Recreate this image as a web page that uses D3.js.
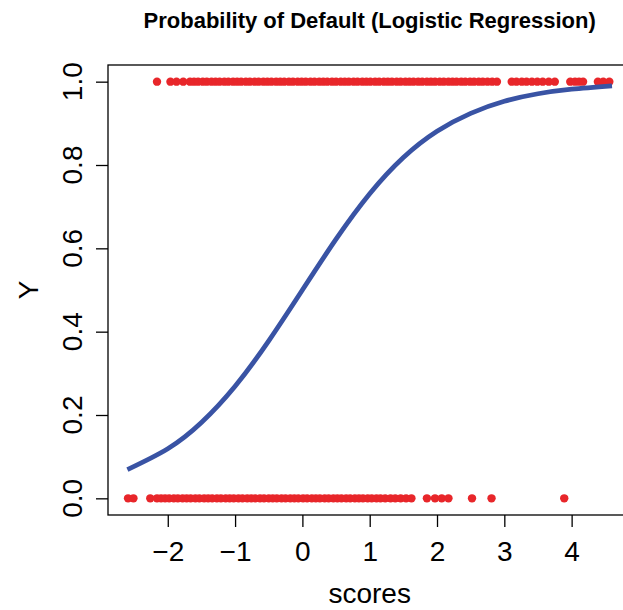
<!DOCTYPE html>
<html>
<head>
<meta charset="utf-8">
<script src="https://cdn.jsdelivr.net/npm/d3@7"></script>
<style>
  html, body { margin: 0; padding: 0; background: #fff; }
  svg { display: block; }
  text { font-family: "Liberation Sans", Arial, Helvetica, sans-serif; fill: #000; }
</style>
</head>
<body>
<svg id="chart" width="623" height="610"></svg>
<script>
// Observed scores of borrowers who defaulted (Y = 1)
const defaultScores = [
  -2.16, -1.96, -1.87, -1.77, -1.67, -1.61, -1.55, -1.48, -1.42, -1.35, -1.29, -1.23,
  -1.16, -1.10, -1.03, -0.97, -0.91, -0.84, -0.78, -0.71, -0.65, -0.58, -0.52, -0.46,
  -0.39, -0.33, -0.27, -0.20, -0.14, -0.07, -0.01, 0.05, 0.12, 0.18, 0.25, 0.31,
  0.37, 0.44, 0.50, 0.57, 0.63, 0.69, 0.76, 0.82, 0.89, 0.95, 1.01, 1.08, 1.14,
  1.21, 1.27, 1.33, 1.40, 1.46, 1.53, 1.59, 1.65, 1.72, 1.78, 1.85, 1.91, 1.97,
  2.04, 2.10, 2.17, 2.23, 2.29, 2.36, 2.42, 2.49, 2.55, 2.62, 2.68, 2.75, 2.82, 2.89,
  3.11, 3.18, 3.26, 3.33, 3.41, 3.49, 3.57, 3.66, 3.75,
  3.98, 4.05, 4.11, 4.17,
  4.39, 4.47, 4.56
];

// Observed scores of borrowers who did not default (Y = 0)
const nonDefaultScores = [
  -2.59, -2.51, -2.26, -2.16, -2.10, -2.04, -1.98, -1.91, -1.85, -1.78, -1.72, -1.66,
  -1.59, -1.53, -1.46, -1.40, -1.34, -1.27, -1.21, -1.14, -1.08, -1.02, -0.95, -0.89,
  -0.82, -0.76, -0.70, -0.63, -0.57, -0.50, -0.44, -0.38, -0.31, -0.25, -0.18, -0.12,
  -0.06, 0.01, 0.07, 0.14, 0.20, 0.26, 0.33, 0.39, 0.46, 0.52, 0.58, 0.65, 0.71,
  0.78, 0.84, 0.90, 0.97, 1.03, 1.10, 1.16, 1.23, 1.31, 1.38, 1.46, 1.54, 1.62,
  1.85, 1.97, 2.07, 2.17, 2.52, 2.81, 3.89
];

// Fitted probability of default along the score range
const fitScores = [-2.6, -2.0, -1.5, -1.0, -0.5, 0.0, 0.5, 1.0, 1.5, 2.0, 2.5, 3.0, 3.5, 4.0, 4.6];
const fitProb   = [0.069, 0.119, 0.182, 0.269, 0.378, 0.500, 0.622, 0.731, 0.818, 0.881, 0.924, 0.953, 0.971, 0.982, 0.990];

// Axis ticks
const xTicks = [-2, -1, 0, 1, 2, 3, 4];
const xTickLabels = ["\u22122", "\u22121", "0", "1", "2", "3", "4"];
const yTicks = [0, 0.2, 0.4, 0.6, 0.8, 1.0];
const yTickLabels = ["0.0", "0.2", "0.4", "0.6", "0.8", "1.0"];

const svg = d3.select("#chart");

const plot = { left: 108, right: 631.4, top: 65, bottom: 515 };

const x = d3.scaleLinear().domain([-2.888, 4.888]).range([plot.left, plot.right]);
const y = d3.scaleLinear().domain([-0.04, 1.04]).range([plot.bottom, plot.top]);

const red = "#E8262A";
const blue = "#3953A4";

// Points
const pts = svg.append("g");
pts.selectAll("circle.one")
  .data(defaultScores)
  .join("circle")
  .attr("class", "one")
  .attr("cx", d => x(d))
  .attr("cy", y(1))
  .attr("r", 4.2)
  .attr("fill", red);
pts.selectAll("circle.zero")
  .data(nonDefaultScores)
  .join("circle")
  .attr("class", "zero")
  .attr("cx", d => x(d))
  .attr("cy", y(0))
  .attr("r", 4.2)
  .attr("fill", red);

// Fitted logistic curve
const fit = fitScores.map((s, i) => [s, fitProb[i]]);
svg.append("path")
  .datum(fit)
  .attr("fill", "none")
  .attr("stroke", blue)
  .attr("stroke-width", 4.8)
  .attr("stroke-linecap", "butt")
  .attr("d", d3.line().x(d => x(d[0])).y(d => y(d[1])).curve(d3.curveNatural));

// Box
svg.append("rect")
  .attr("x", plot.left)
  .attr("y", plot.top)
  .attr("width", plot.right - plot.left)
  .attr("height", plot.bottom - plot.top)
  .attr("fill", "none")
  .attr("stroke", "#000")
  .attr("stroke-width", 1.3);

// X axis
const xAxis = svg.append("g")
  .attr("transform", `translate(0,${plot.bottom})`)
  .call(d3.axisBottom(x).tickValues(xTicks).tickSize(12).tickSizeOuter(0)
    .tickFormat((d, i) => xTickLabels[i]));
xAxis.select(".domain").remove();
xAxis.selectAll(".tick line").attr("stroke", "#000").attr("stroke-width", 1.3);
xAxis.selectAll(".tick text")
  .attr("y", 46).attr("dy", null)
  .style("font-size", "28px")
  .attr("fill", "#000");

// Y axis
const yAxis = svg.append("g")
  .attr("transform", `translate(${plot.left},0)`)
  .call(d3.axisLeft(y).tickValues(yTicks).tickSize(12).tickSizeOuter(0));
yAxis.select(".domain").remove();
yAxis.selectAll(".tick line").attr("stroke", "#000").attr("stroke-width", 1.3);
yAxis.selectAll(".tick text").remove();
svg.append("g").selectAll("text")
  .data(yTicks)
  .join("text")
  .attr("transform", d => `translate(82,${y(d)}) rotate(-90)`)
  .attr("text-anchor", "middle")
  .style("font-size", "28px")
  .text((d, i) => yTickLabels[i]);

// Axis titles
svg.append("text")
  .attr("x", (plot.left + plot.right) / 2)
  .attr("y", 603)
  .attr("text-anchor", "middle")
  .style("font-size", "28px")
  .text("scores");
svg.append("text")
  .attr("transform", `translate(38,${(plot.top + plot.bottom) / 2}) rotate(-90)`)
  .attr("text-anchor", "middle")
  .style("font-size", "28px")
  .text("Y");

// Title
svg.append("text")
  .attr("x", (plot.left + plot.right) / 2)
  .attr("y", 28)
  .attr("text-anchor", "middle")
  .style("font-size", "22px")
  .style("font-weight", "bold")
  .text("Probability of Default (Logistic Regression)");
</script>
</body>
</html>
